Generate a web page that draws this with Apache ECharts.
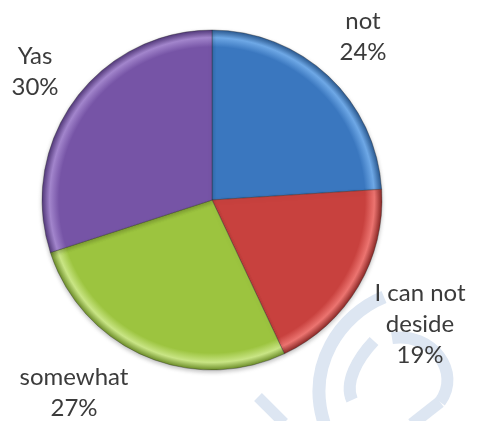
<!DOCTYPE html>
<html>
<head>
<meta charset="utf-8">
<script src="https://cdn.jsdelivr.net/npm/echarts@6/dist/echarts.min.js"></script>
<style>
  html, body { margin: 0; padding: 0; background: #ffffff; }
  #chart { width: 477px; height: 421px; }
</style>
</head>
<body>
<div id="chart"></div>
<script>
// ---- data ----
const categories = ['not', 'I can not\ndeside', 'somewhat', 'Yas'];
const values = [24, 19, 27, 30];

// ---- styles ----
const palette = [
  { base: '#3a77bf', light: '#6ea8e6', dark: '#2a5990' },
  { base: '#c8413e', light: '#ec7470', dark: '#8a2826' },
  { base: '#9cc43f', light: '#c9e585', dark: '#6b8c28' },
  { base: '#7654a6', light: '#a285cc', dark: '#52387a' }
];
const CX = 212, CY = 200, R = 170;
const labelSpots = [[363, 37], [420, 324], [74, 393], [35, 72]];
const WM = '#dde6f2';

function fillFor(p) {
  return {
    type: 'radial', x: CX, y: CY, r: R, global: true,
    colorStops: [
      { offset: 0, color: p.base },
      { offset: 0.9, color: p.base },
      { offset: 0.955, color: p.light },
      { offset: 1, color: p.dark }
    ]
  };
}

const chart = echarts.init(document.getElementById('chart'), null, { renderer: 'canvas' });

const option = {
  backgroundColor: '#ffffff',
  animation: false,
  graphic: [
    {
      type: 'bezierCurve', z: -10, silent: true,
      shape: { x1: 384, y1: 297, cpx1: 340, cpy1: 315, cpx2: 306, cpy2: 365, x2: 324, y2: 423 },
      style: { stroke: WM, lineWidth: 13, fill: null }
    },
    {
      type: 'bezierCurve', z: -10, silent: true,
      shape: { x1: 374, y1: 341, cpx1: 358, cpy1: 358, cpx2: 344, cpy2: 382, x2: 352, y2: 400 },
      style: { stroke: WM, lineWidth: 12, fill: null }
    },
    {
      type: 'bezierCurve', z: -10, silent: true,
      shape: { x1: 392, y1: 338, cpx1: 432, cpy1: 332, cpx2: 462, cpy2: 372, x2: 440, y2: 402 },
      style: { stroke: WM, lineWidth: 12, fill: null }
    },
    {
      type: 'line', z: -10, silent: true,
      shape: { x1: 440, y1: 402, x2: 412, y2: 424 },
      style: { stroke: WM, lineWidth: 12 }
    },
    {
      type: 'line', z: -10, silent: true,
      shape: { x1: 258, y1: 397, x2: 284, y2: 423 },
      style: { stroke: WM, lineWidth: 11 }
    }
  ],
  series: [{
    type: 'pie',
    center: [CX, CY],
    radius: [0, R],
    startAngle: 90,
    clockwise: true,
    avoidLabelOverlap: false,
    itemStyle: {
      borderColor: 'rgba(40,40,40,0.35)',
      borderWidth: 1,
      shadowColor: 'rgba(0,0,0,0.25)',
      shadowBlur: 4,
      shadowOffsetY: 2
    },
    label: {
      show: true,
      position: 'outside',
      formatter: '{b}\n{d}%',
      fontFamily: 'Lato, "Open Sans", sans-serif',
      fontSize: 24,
      lineHeight: 31,
      color: '#3b3b3b',
      align: 'center'
    },
    labelLine: { show: false },
    labelLayout: function (params) {
      const p = labelSpots[params.dataIndex];
      return { x: p[0], y: p[1], align: 'center', verticalAlign: 'middle', hideOverlap: false };
    },
    emphasis: { disabled: true },
    data: categories.map(function (name, i) {
      return { name: name, value: values[i], itemStyle: { color: fillFor(palette[i]) } };
    })
  }]
};

chart.setOption(option);
</script>
</body>
</html>
